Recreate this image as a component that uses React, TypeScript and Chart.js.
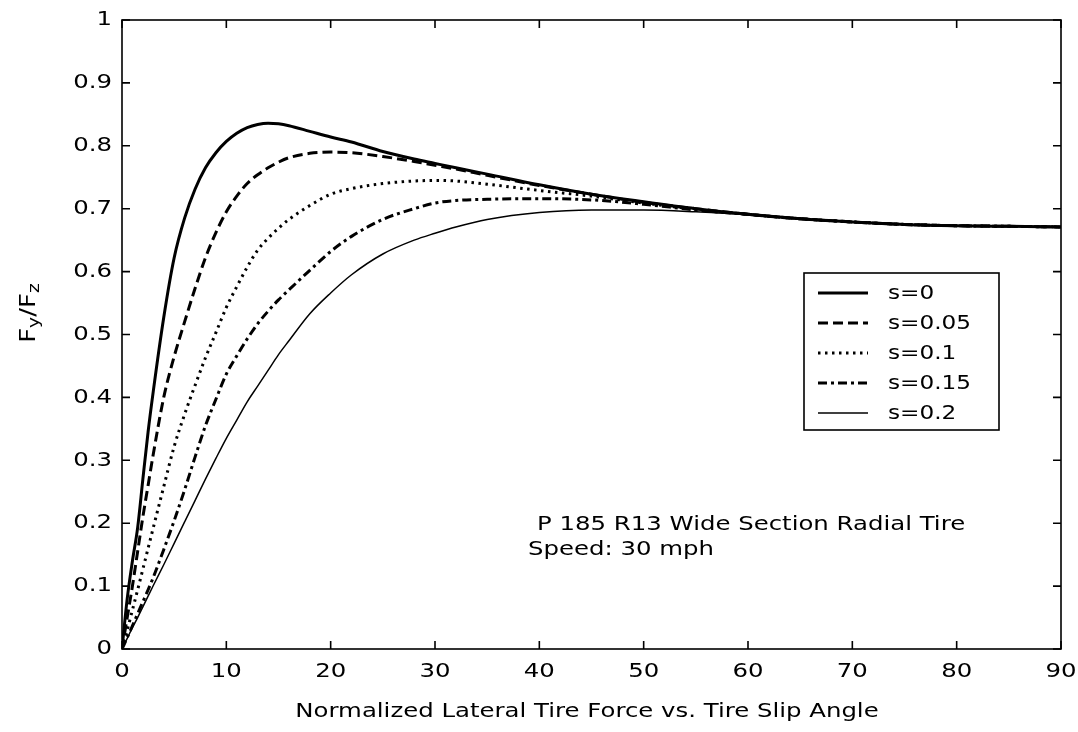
import React, { useEffect, useRef } from "react";
import { Chart, registerables } from "chart.js";

Chart.register(...registerables);

// Slip angle (deg)
const slipAngle = [0, 0.5, 1, 1.5, 2, 2.5, 3, 4, 5, 6, 7, 8, 9, 10, 11, 12, 13, 14, 15, 16, 18, 20, 22, 25, 28, 30, 32, 35, 40, 45, 50, 55, 60, 65, 70, 75, 80, 85, 90];

// Fy/Fz for each longitudinal slip s
const s000 = [0, 0.08, 0.14, 0.193, 0.27, 0.345, 0.41, 0.527, 0.622, 0.685, 0.731, 0.765, 0.789, 0.807, 0.82, 0.829, 0.834, 0.836, 0.835, 0.832, 0.823, 0.814, 0.806, 0.791, 0.779, 0.772, 0.765, 0.755, 0.738, 0.723, 0.711, 0.7, 0.691, 0.684, 0.679, 0.675, 0.673, 0.672, 0.671];
const s005 = [0, 0.05, 0.1, 0.155, 0.21, 0.26, 0.31, 0.4, 0.465, 0.52, 0.573, 0.622, 0.662, 0.695, 0.72, 0.74, 0.754, 0.765, 0.774, 0.781, 0.788, 0.79, 0.789, 0.783, 0.775, 0.769, 0.763, 0.753, 0.737, 0.723, 0.71, 0.7, 0.691, 0.684, 0.679, 0.675, 0.673, 0.672, 0.671];
const s010 = [0, 0.03, 0.062, 0.094, 0.127, 0.16, 0.193, 0.258, 0.322, 0.373, 0.419, 0.463, 0.503, 0.543, 0.576, 0.607, 0.634, 0.653, 0.669, 0.683, 0.705, 0.723, 0.732, 0.74, 0.744, 0.745, 0.744, 0.739, 0.729, 0.72, 0.709, 0.699, 0.691, 0.684, 0.679, 0.675, 0.673, 0.672, 0.671];
const s015 = [0, 0.018, 0.037, 0.056, 0.075, 0.094, 0.114, 0.158, 0.204, 0.253, 0.305, 0.355, 0.397, 0.437, 0.466, 0.493, 0.517, 0.537, 0.555, 0.571, 0.602, 0.632, 0.656, 0.683, 0.7, 0.709, 0.713, 0.715, 0.716, 0.714, 0.707, 0.698, 0.691, 0.684, 0.679, 0.675, 0.673, 0.672, 0.671];
const s020 = [0, 0.017, 0.034, 0.05, 0.067, 0.084, 0.101, 0.134, 0.168, 0.202, 0.236, 0.27, 0.303, 0.335, 0.364, 0.393, 0.418, 0.443, 0.468, 0.49, 0.533, 0.566, 0.595, 0.628, 0.65, 0.661, 0.671, 0.683, 0.694, 0.698, 0.698, 0.695, 0.69, 0.684, 0.679, 0.675, 0.673, 0.672, 0.671];

const seriesLabels = ["s=0", "s=0.05", "s=0.1", "s=0.15", "s=0.2"];
const xTitle = "Normalized Lateral Tire Force vs. Tire Slip Angle";
const noteLines = ["P 185 R13 Wide Section Radial Tire", "Speed: 30 mph"];

const FONT = "'DejaVu Sans', 'Liberation Sans', sans-serif";
const STRETCH = 1.22;

function wideText(ctx: CanvasRenderingContext2D, text: string, x: number, y: number, align: CanvasTextAlign, baseline: CanvasTextBaseline, size = 20) {
  ctx.save();
  ctx.translate(x, y);
  ctx.scale(STRETCH, 1);
  ctx.font = `${size}px ${FONT}`;
  ctx.textAlign = align;
  ctx.textBaseline = baseline;
  ctx.fillStyle = "#000";
  ctx.fillText(text, 0, 0);
  ctx.restore();
}

const fmt = (v: number) => String(Math.round(v * 10) / 10);

const overlayPlugin = {
  id: "overlay",
  afterDraw(chart: any) {
    const { ctx, chartArea: a, scales } = chart;
    const xs = scales.x;
    const ys = scales.y;
    ctx.save();
    ctx.strokeStyle = "#000";
    ctx.fillStyle = "#000";
    ctx.lineWidth = 1.6;
    ctx.setLineDash([]);
    ctx.strokeRect(a.left, a.top, a.right - a.left, a.bottom - a.top);
    const tl = 8;
    ctx.beginPath();
    xs.ticks.forEach((t: any) => {
      const px = xs.getPixelForValue(t.value);
      ctx.moveTo(px, a.bottom);
      ctx.lineTo(px, a.bottom - tl);
      ctx.moveTo(px, a.top);
      ctx.lineTo(px, a.top + tl);
    });
    ys.ticks.forEach((t: any) => {
      const py = ys.getPixelForValue(t.value);
      ctx.moveTo(a.left, py);
      ctx.lineTo(a.left + tl, py);
      ctx.moveTo(a.right, py);
      ctx.lineTo(a.right - tl, py);
    });
    ctx.stroke();

    // Tick labels
    xs.ticks.forEach((t: any) => {
      wideText(ctx, fmt(t.value), xs.getPixelForValue(t.value), a.bottom + 23, "center", "middle");
    });
    ys.ticks.forEach((t: any) => {
      wideText(ctx, fmt(t.value), a.left - 10, ys.getPixelForValue(t.value), "right", "middle");
    });

    // Legend box
    const lx = 804, ly = 273, lw = 195, lh = 157;
    ctx.fillStyle = "#fff";
    ctx.fillRect(lx, ly, lw, lh);
    ctx.strokeStyle = "#000";
    ctx.lineWidth = 1.6;
    ctx.strokeRect(lx, ly, lw, lh);
    chart.data.datasets.forEach((ds: any, i: number) => {
      const y = ly + 20 + i * 30;
      ctx.save();
      ctx.strokeStyle = "#000";
      ctx.lineWidth = ds.borderWidth;
      ctx.setLineDash(ds.borderDash || []);
      ctx.beginPath();
      ctx.moveTo(818, y);
      ctx.lineTo(868, y);
      ctx.stroke();
      ctx.restore();
      wideText(ctx, ds.label, 888, y + 1, "left", "middle", 19);
    });

    // Annotation
    wideText(ctx, noteLines[0], 537, 530, "left", "alphabetic");
    wideText(ctx, noteLines[1], 528, 555, "left", "alphabetic");

    // X title
    wideText(ctx, xTitle, 587, 717, "center", "alphabetic");

    // Y title with subscripts
    ctx.save();
    ctx.translate(35, 313);
    ctx.rotate(-Math.PI / 2);
    ctx.scale(1.18, 1);
    ctx.fillStyle = "#000";
    const parts: [string, number, number][] = [["F", 22, 0], ["y", 16, 4], ["/F", 22, 0], ["z", 16, 4]];
    let total = 0;
    parts.forEach(([t, sz]) => { ctx.font = `${sz}px ${FONT}`; total += ctx.measureText(t).width; });
    let cx = -total / 2;
    ctx.textAlign = "left";
    ctx.textBaseline = "alphabetic";
    parts.forEach(([t, sz, off]) => {
      ctx.font = `${sz}px ${FONT}`;
      ctx.fillText(t, cx, off);
      cx += ctx.measureText(t).width;
    });
    ctx.restore();
    ctx.restore();
  },
};

export default function App() {
  const ref = useRef<HTMLCanvasElement | null>(null);
  useEffect(() => {
    if (!ref.current) return;
    const mk = (vals: number[]) => slipAngle.map((x, i) => ({ x, y: vals[i] }));
    const base = { pointRadius: 0, borderColor: "#000", backgroundColor: "#000", fill: false, cubicInterpolationMode: "monotone" as const };
    const chart = new Chart(ref.current, {
      type: "line",
      data: {
        datasets: [
          { ...base, label: seriesLabels[0], data: mk(s000), borderWidth: 3 },
          { ...base, label: seriesLabels[1], data: mk(s005), borderWidth: 3, borderDash: [10, 5] },
          { ...base, label: seriesLabels[2], data: mk(s010), borderWidth: 3, borderDash: [2.5, 4.5] },
          { ...base, label: seriesLabels[3], data: mk(s015), borderWidth: 3, borderDash: [9, 4, 3, 4] },
          { ...base, label: seriesLabels[4], data: mk(s020), borderWidth: 1.5 },
        ],
      },
      options: {
        animation: false,
        responsive: false,
        devicePixelRatio: 1,
        layout: { padding: { top: 20, right: 17, left: 0, bottom: 0 } },
        plugins: { legend: { display: false }, tooltip: { enabled: false } },
        scales: {
          x: {
            type: "linear",
            min: 0,
            max: 90,
            grid: { display: false, drawTicks: false },
            border: { display: false },
            ticks: { stepSize: 10, display: false },
            afterFit: (s: any) => { s.height = 83; s.paddingLeft = 0; s.paddingRight = 0; },
          },
          y: {
            min: 0,
            max: 1,
            grid: { display: false, drawTicks: false },
            border: { display: false },
            ticks: { stepSize: 0.1, display: false },
            afterFit: (s: any) => { s.width = 122; s.paddingTop = 0; s.paddingBottom = 0; },
          },
        },
      },
      plugins: [overlayPlugin],
    });
    return () => chart.destroy();
  }, []);
  return (
    <div style={{ position: "absolute", left: 0, top: 0, width: 1078, height: 732, background: "#fff" }}>
      <canvas ref={ref} width={1078} height={732} />
    </div>
  );
}
